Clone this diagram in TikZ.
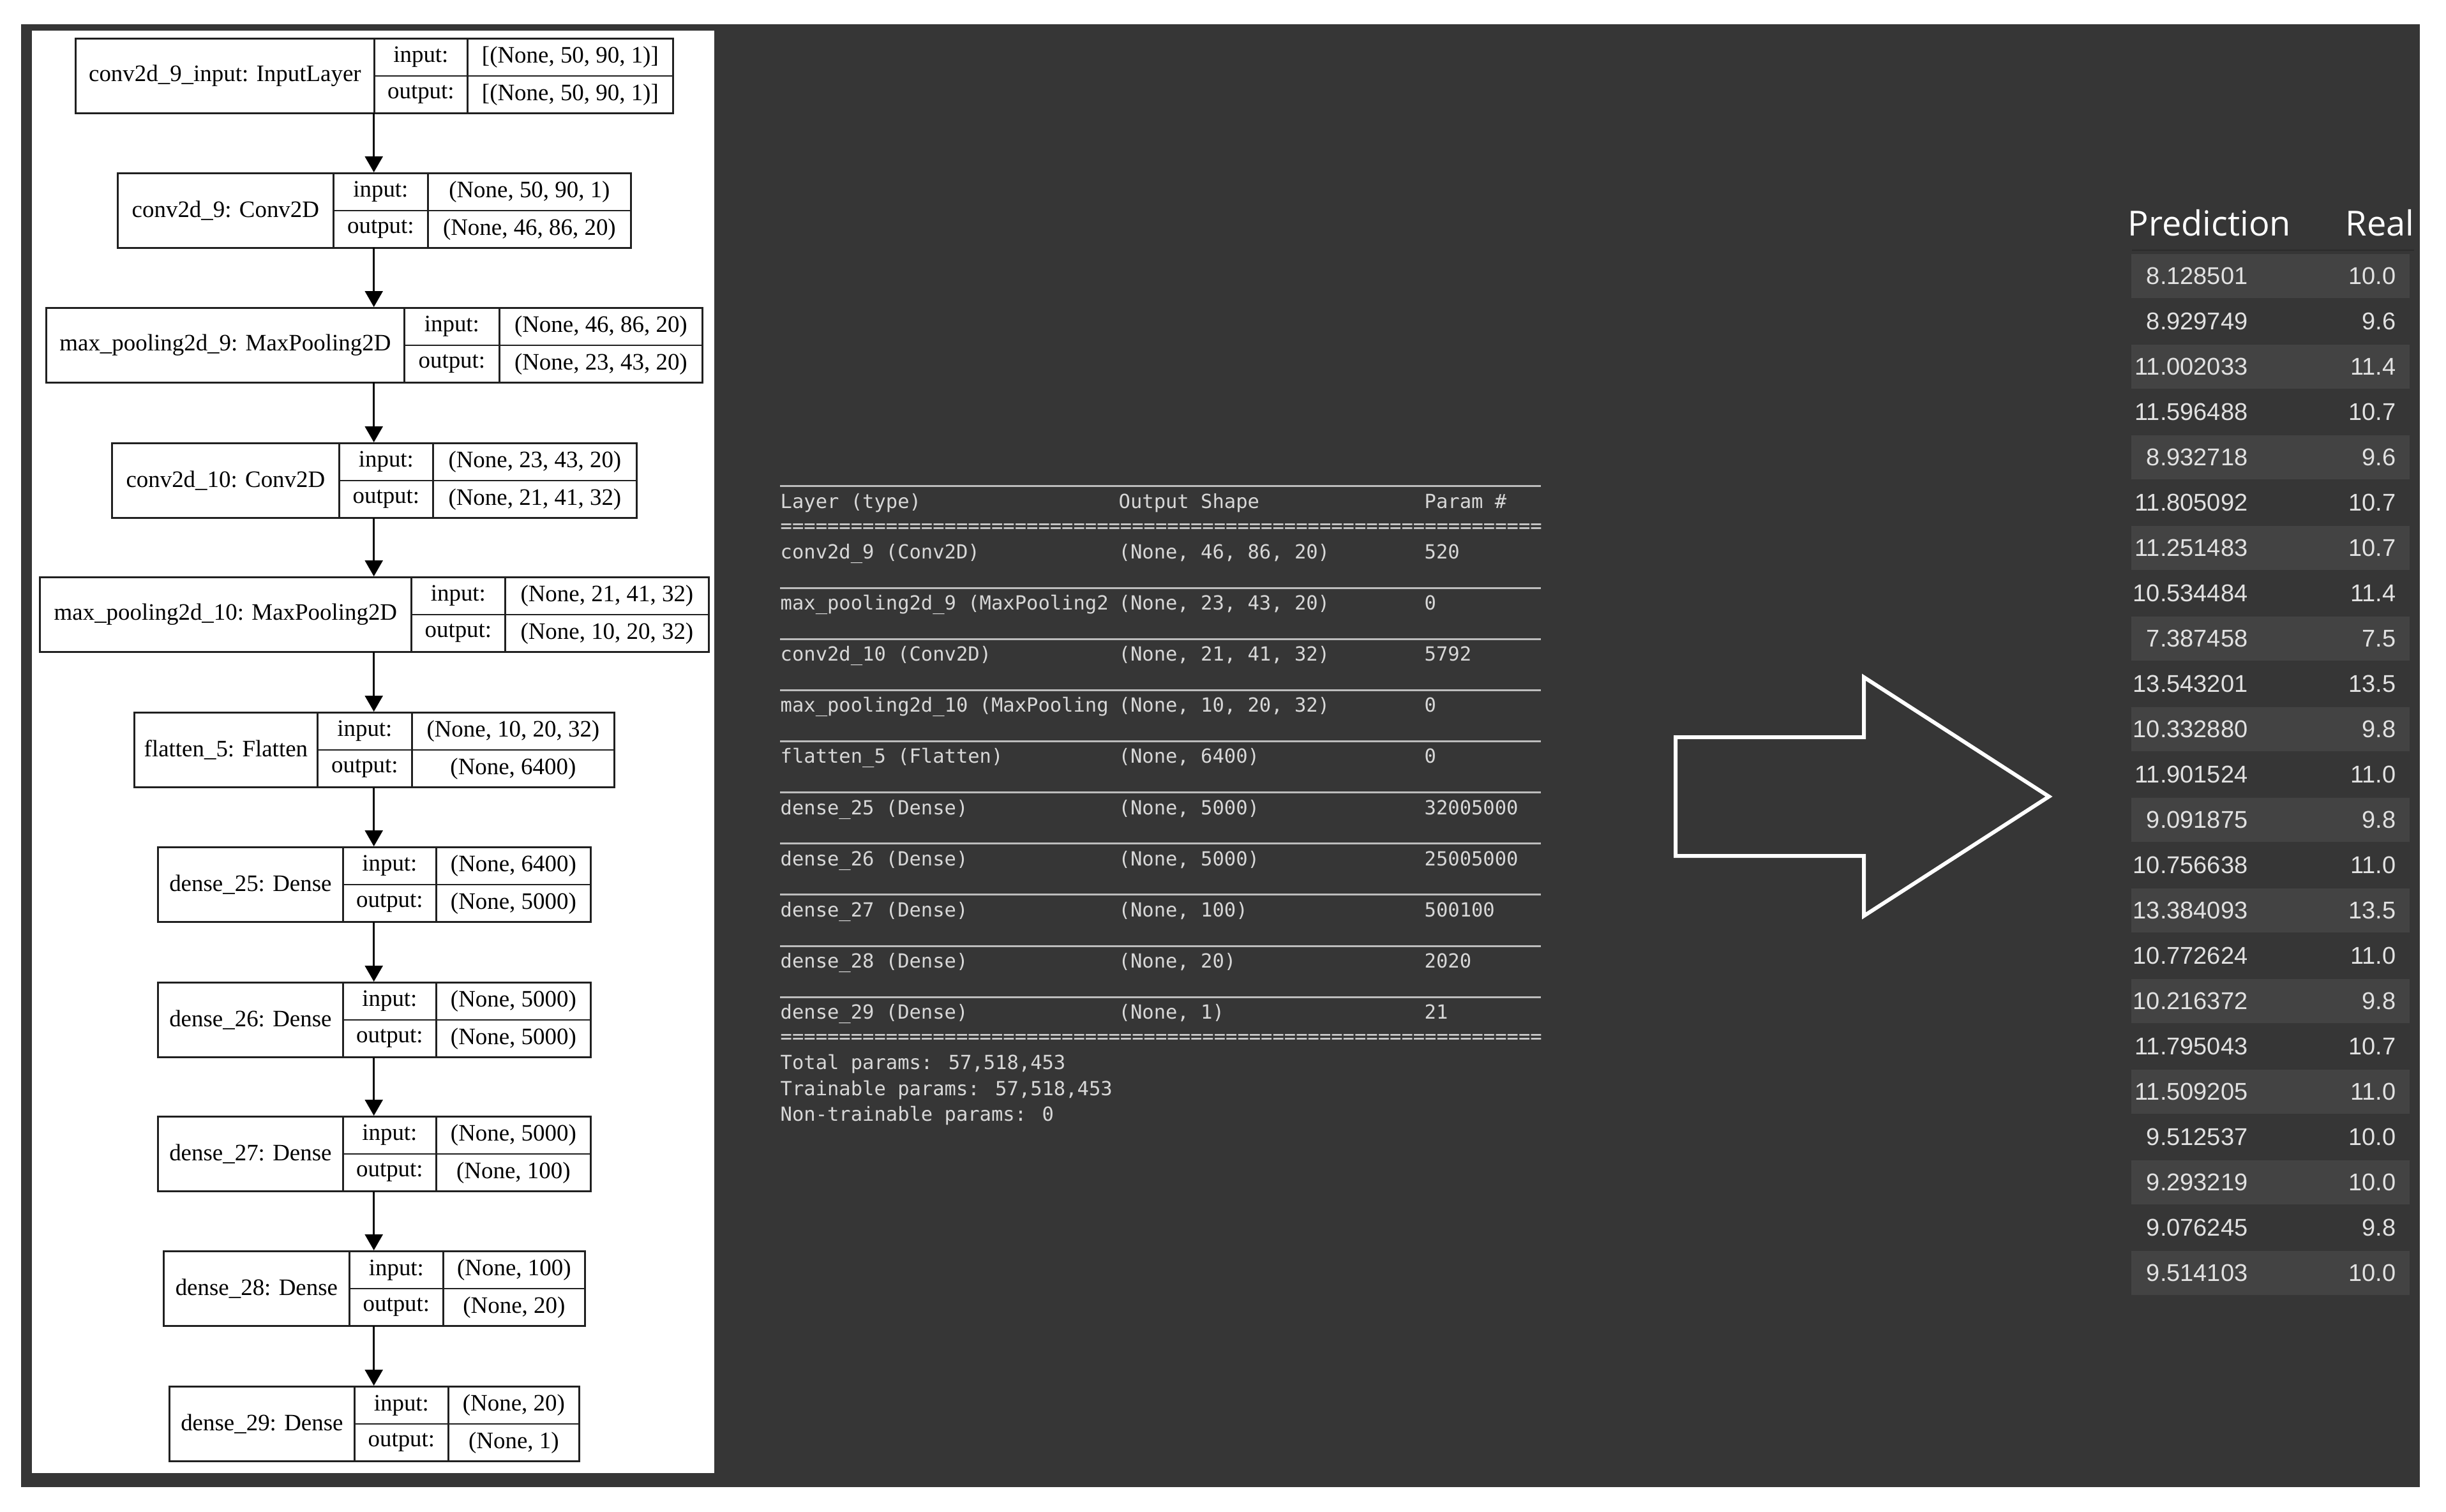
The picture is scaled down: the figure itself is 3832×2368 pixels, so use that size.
\documentclass[tikz,border=0pt]{standalone}
\usepackage{fontspec}
\setmainfont{Liberation Serif}
\newfontfamily\monof{DejaVu Sans Mono}
\newfontfamily\numf{Liberation Sans}
\newfontfamily\headf{Open Sans}
\usetikzlibrary{arrows.meta}

\definecolor{bgdark}{HTML}{363636}
\definecolor{band}{HTML}{434343}
\definecolor{monotxt}{HTML}{D8D8D8}
\definecolor{rulec}{HTML}{BDBDBD}
\definecolor{numtxt}{HTML}{E2E2E2}
\definecolor{headline}{HTML}{2C2C2C}
\definecolor{boxline}{HTML}{202020}

\tikzset{
  cellbox/.style={draw=boxline, line width=0.028cm, inner sep=0pt, anchor=north west,
    font=\fontsize{10.5pt}{12pt}\selectfont},
  outerbox/.style={anchor=north west, inner sep=0pt, minimum height=1.17cm},
  flow/.style={draw=black, line width=0.026cm, -{Triangle[length=0.25cm,width=0.28cm]}},
  mono/.style={anchor=base west, inner sep=0pt, text=monotxt,
    font=\monof\fontsize{8.67pt}{10pt}\selectfont},
  rulel/.style={draw=rulec, line width=0.03cm},
  numtext/.style={anchor=base east, inner sep=0pt, text=numtxt,
    font=\numf\fontsize{10.8pt}{12pt}\selectfont},
  headtext/.style={anchor=base west, inner sep=0pt, text=white,
    font=\headf\fontsize{15.4pt}{18pt}\selectfont},
}

% #1 id, #2 top, #3 x0, #4 x1, #5 x2, #6 x3, #7 name, #8 in, #9 out
\newcommand\layerbox[9]{%
  \node[outerbox, minimum width={(#6-#3)*0.01cm}] (#1) at (#3,#2) {};
  \node[cellbox, minimum width={(#4-#3)*0.01cm}, minimum height=1.17cm] (#1n) at (#3,#2) {#7};
  \node[cellbox, minimum width={(#5-#4)*0.01cm}, minimum height=0.585cm] (#1i) at (#4,#2) {input:};
  \node[cellbox, minimum width={(#5-#4)*0.01cm}, minimum height=0.585cm] (#1o) at (#4,#2+58.5) {output:};
  \node[cellbox, minimum width={(#6-#5)*0.01cm}, minimum height=0.585cm] (#1a) at (#5,#2) {#8};
  \node[cellbox, minimum width={(#6-#5)*0.01cm}, minimum height=0.585cm] (#1b) at (#5,#2+58.5) {#9};
}

% #1 id, #2 center y, #3 #4 #5 columns
\newcommand\srow[5]{%
  \node[mono] (#1a) at (1222,#2+11) {#3};
  \node[mono] (#1b) at (1752,#2+11) {#4};
  \node[mono] (#1c) at (2231,#2+11) {#5};
}
\newcommand\eqthirteen{=============}

\begin{document}
\begin{tikzpicture}[x=0.01cm, y=-0.01cm]
\fill[white] (0,0) rectangle (3832,2368);
\useasboundingbox (0,0) rectangle (3832,2368);
\fill[bgdark] (33,38) rectangle (3791,2330);
\fill[white] (50,48) rectangle (1119,2308);

% ---------------- model graph ----------------
\layerbox{L1}{59}{117}{585}{731}{1053}{conv2d\_9\_input: InputLayer}{[(None, 50, 90, 1)]}{[(None, 50, 90, 1)]}
\layerbox{L2}{270}{183}{521}{669}{987}{conv2d\_9: Conv2D}{(None, 50, 90, 1)}{(None, 46, 86, 20)}
\layerbox{L3}{481}{71}{632}{781}{1099}{max\_pooling2d\_9: MaxPooling2D}{(None, 46, 86, 20)}{(None, 23, 43, 20)}
\layerbox{L4}{693}{174}{530}{677}{996}{conv2d\_10: Conv2D}{(None, 23, 43, 20)}{(None, 21, 41, 32)}
\layerbox{L5}{903}{61}{643}{790}{1109}{max\_pooling2d\_10: MaxPooling2D}{(None, 21, 41, 32)}{(None, 10, 20, 32)}
\layerbox{L6}{1115}{209}{496}{644}{961}{flatten\_5: Flatten}{(None, 10, 20, 32)}{(None, 6400)}
\layerbox{L7}{1326}{246}{536}{682}{924}{dense\_25: Dense}{(None, 6400)}{(None, 5000)}
\layerbox{L8}{1538}{246}{536}{682}{924}{dense\_26: Dense}{(None, 5000)}{(None, 5000)}
\layerbox{L9}{1748}{246}{536}{682}{924}{dense\_27: Dense}{(None, 5000)}{(None, 100)}
\layerbox{L10}{1959}{255}{546}{693}{915}{dense\_28: Dense}{(None, 100)}{(None, 20)}
\layerbox{L11}{2171}{264}{554}{701}{906}{dense\_29: Dense}{(None, 20)}{(None, 1)}

\foreach \a/\b in {L1/L2, L2/L3, L3/L4, L4/L5, L5/L6, L6/L7, L7/L8, L8/L9, L9/L10, L10/L11}
  \draw[flow] (\a.south) -- (\a.south |- \b.north);

% ---------------- model summary ----------------
\draw[rulel] (1222,761) -- (2414,761);
\srow{sh}{785}{Layer (type)}{Output Shape}{Param \#}
\node[mono] (eq1) at (1222,834) {\eqthirteen\eqthirteen\eqthirteen\eqthirteen\eqthirteen};
\srow{s1}{864}{conv2d\_9 (Conv2D)}{(None, 46, 86, 20)}{520}
\draw[rulel] (1222,921) -- (2414,921);
\srow{s2}{944}{max\_pooling2d\_9 (MaxPooling2}{(None, 23, 43, 20)}{0}
\draw[rulel] (1222,1001) -- (2414,1001);
\srow{s3}{1024}{conv2d\_10 (Conv2D)}{(None, 21, 41, 32)}{5792}
\draw[rulel] (1222,1081) -- (2414,1081);
\srow{s4}{1104}{max\_pooling2d\_10 (MaxPooling}{(None, 10, 20, 32)}{0}
\draw[rulel] (1222,1161) -- (2414,1161);
\srow{s5}{1184}{flatten\_5 (Flatten)}{(None, 6400)}{0}
\draw[rulel] (1222,1241) -- (2414,1241);
\srow{s6}{1265}{dense\_25 (Dense)}{(None, 5000)}{32005000}
\draw[rulel] (1222,1321) -- (2414,1321);
\srow{s7}{1345}{dense\_26 (Dense)}{(None, 5000)}{25005000}
\draw[rulel] (1222,1401) -- (2414,1401);
\srow{s8}{1425}{dense\_27 (Dense)}{(None, 100)}{500100}
\draw[rulel] (1222,1482) -- (2414,1482);
\srow{s9}{1505}{dense\_28 (Dense)}{(None, 20)}{2020}
\draw[rulel] (1222,1562) -- (2414,1562);
\srow{s10}{1585}{dense\_29 (Dense)}{(None, 1)}{21}
\node[mono] (eq2) at (1222,1634) {\eqthirteen\eqthirteen\eqthirteen\eqthirteen\eqthirteen};
\node[mono] (tot1) at (1222,1675) {Total params: 57,518,453};
\node[mono] (tot2) at (1222,1716) {Trainable params: 57,518,453};
\node[mono] (tot3) at (1222,1756) {Non-trainable params: 0};

% ---------------- big hollow arrow ----------------
\draw[white, line width=0.06cm, line join=miter]
  (2625,1155) -- (2920,1155) -- (2920,1061) -- (3210,1248) -- (2920,1435)
  -- (2920,1341) -- (2625,1341) -- cycle;

% ---------------- prediction table ----------------
\node[headtext] (hpred) at (3333,369) {Prediction};
\node[headtext] (hreal) at (3674,369) {Real};
\draw[headline, line width=0.02cm] (3340,392) -- (3782,392);
\foreach \k in {0,2,...,22}
  \fill[band] (3339,{432+71*\k-34.5}) rectangle (3775,{432+71*\k+34.5});
\foreach \p/\r [count=\i from 0] in {8.128501/10.0, 8.929749/9.6, 11.002033/11.4,
  11.596488/10.7, 8.932718/9.6, 11.805092/10.7, 11.251483/10.7, 10.534484/11.4,
  7.387458/7.5, 13.543201/13.5, 10.332880/9.8, 11.901524/11.0, 9.091875/9.8,
  10.756638/11.0, 13.384093/13.5, 10.772624/11.0, 10.216372/9.8, 11.795043/10.7,
  11.509205/11.0, 9.512537/10.0, 9.293219/10.0, 9.076245/9.8, 9.514103/10.0}{
  \node[numtext] (p\i) at (3522,{432+71*\i+13.5}) {\p};
  \node[numtext] (r\i) at (3754,{432+71*\i+13.5}) {\r};
}
\end{tikzpicture}
\end{document}
